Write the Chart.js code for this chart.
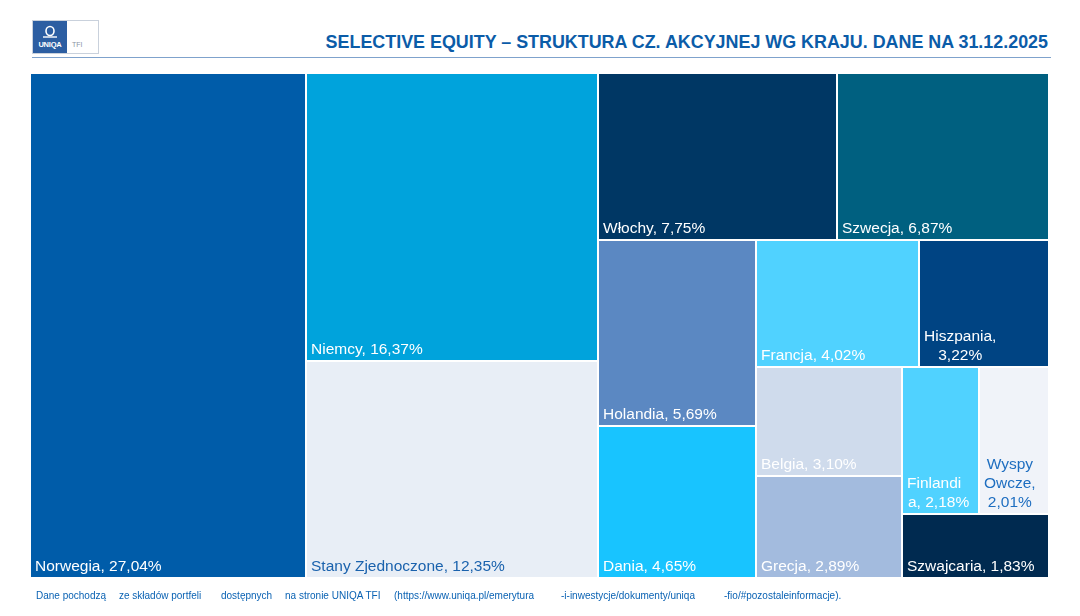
<!DOCTYPE html>
<html lang="pl">
<head>
<meta charset="utf-8">
<script src="https://cdn.jsdelivr.net/npm/chart.js@4.4.1/dist/chart.umd.min.js"></script>
<style>
    html, body { margin: 0; padding: 0; background: #fff; }
    body { width: 1080px; height: 616px; position: relative; overflow: hidden; font-family: "Liberation Sans", Arial, sans-serif; }
    #wrap { position: absolute; left: 0; top: 0; width: 1080px; height: 616px; }
    .logo { position: absolute; left: 32px; top: 20px; width: 67px; height: 34px; border: 1px solid #c9d1dc; box-sizing: border-box; background: #fff; }
    .logo .blue { position: absolute; left: 0; top: 0; width: 34px; height: 32px; background: #2c5ea2; }
    .logo svg { position: absolute; left: 0; top: 3px; }
    .logo .uq { position: absolute; left: 0; width: 34px; top: 19px; text-align: center; color: #fff; font-weight: bold; font-size: 7.5px; letter-spacing: -0.2px; }
    .logo .tfi { position: absolute; left: 39px; top: 20px; color: #8a94a6; font-size: 7px; }
    .title { position: absolute; right: 32px; top: 32px; font-weight: bold; font-size: 17.9px; color: #0b5ca8; white-space: nowrap; }
    .rule { position: absolute; left: 32px; top: 57px; width: 1019px; height: 1px; background: #7fa2cc; }
    .note { position: absolute; top: 590px; font-size: 10px; color: #0a62b3; white-space: nowrap; }
</style>
</head>
<body>
<div class="logo">
    <div class="blue">
        <svg width="34" height="16" viewBox="0 0 34 16">
            <ellipse cx="17" cy="7" rx="4" ry="4.5" fill="none" stroke="#fff" stroke-width="1.6"/>
            <path d="M10 13 L24 13" stroke="#fff" stroke-width="1.4"/>
        </svg>
        <span class="uq">UNIQA</span>
    </div>
    <span class="tfi">TFI</span>
</div>
<div class="title">SELECTIVE EQUITY – STRUKTURA CZ. AKCYJNEJ WG KRAJU. DANE NA 31.12.2025</div>
<div class="rule"></div>
<div id="wrap"><canvas id="treemap"></canvas></div>
<span class="note" style="left:36px">Dane pochodzą</span>
<span class="note" style="left:119px">ze składów portfeli</span>
<span class="note" style="left:221px">dostępnych</span>
<span class="note" style="left:285px">na stronie UNIQA TFI</span>
<span class="note" style="left:394px">(https://www.uniqa.pl/emerytura</span>
<span class="note" style="left:561px">-i-inwestycje/dokumenty/uniqa</span>
<span class="note" style="left:724px">-fio/#pozostaleinformacje).</span>

<script>
const countries = ['Norwegia', 'Niemcy', 'Stany Zjednoczone', 'Włochy', 'Szwecja', 'Holandia', 'Dania',
    'Francja', 'Hiszpania', 'Belgia', 'Grecja', 'Finlandia', 'Wyspy Owcze', 'Szwajcaria'];
const shares = [27.04, 16.37, 12.35, 7.75, 6.87, 5.69, 4.65, 4.02, 3.22, 3.10, 2.89, 2.18, 2.01, 1.83];
const cellColors = ['#005ca9', '#00a3dc', '#e8eef6', '#003764', '#006080', '#5b88c2', '#18c4ff',
    '#50d2ff', '#004483', '#cfdbec', '#a3bbde', '#50d2ff', '#f0f3f9', '#002a50'];
const labelColors = ['#fff', '#fff', '#1a62ad', '#fff', '#fff', '#fff', '#fff',
    '#fff', '#fff', '#fff', '#fff', '#fff', '#1e6ec0', '#fff'];

const FONT = '15.5px "Liberation Sans", Arial, sans-serif';

// squarified layout, a bit lenient so rows match the office-style treemap
function worstRatio(areas, side) {
    const total = areas.reduce((a, b) => a + b, 0);
    const thick = total / side;
    let worst = 0;
    areas.forEach(a => {
        const len = a / thick;
        worst = Math.max(worst, len / thick, thick / len);
    });
    return worst;
}

function squarify(items, x, y, w, h) {
    const out = [];
    let rest = items.slice();
    while (rest.length) {
        if (rest.length === 1) { out.push(Object.assign({}, rest[0], { x, y, w, h })); break; }
        const column = w >= h;
        const side = column ? h : w;
        let row = [rest[0]];
        let best = worstRatio([rest[0].area], side);
        for (let i = 1; i < rest.length; i++) {
            const cand = row.concat(rest[i]);
            const r = worstRatio(cand.map(c => c.area), side);
            if (r > best * 1.15) break;
            row = cand;
            best = r;
        }
        const sum = row.reduce((a, c) => a + c.area, 0);
        const thick = sum / side;
        let off = 0;
        row.forEach(c => {
            const len = c.area / thick;
            if (column) out.push(Object.assign({}, c, { x, y: y + off, w: thick, h: len }));
            else out.push(Object.assign({}, c, { x: x + off, y, w: len, h: thick }));
            off += len;
        });
        if (column) { x += thick; w -= thick; } else { y += thick; h -= thick; }
        rest = rest.slice(row.length);
    }
    return out;
}

// returns lines, and whether a word had to be split by characters
function wrapText(ctx, text, maxW) {
    const words = text.split(' ');
    const lines = [];
    let cur = '';
    let split = false;
    words.forEach(word => {
        let test = cur ? cur + ' ' + word : word;
        if (ctx.measureText(test).width <= maxW) { cur = test; return; }
        if (cur) { lines.push(cur); cur = ''; }
        let piece = word;
        while (ctx.measureText(piece).width > maxW) {
            let k = piece.length - 1;
            while (k > 1 && ctx.measureText(piece.slice(0, k)).width > maxW) k--;
            lines.push(piece.slice(0, k));
            piece = piece.slice(k);
            split = true;
        }
        cur = piece;
    });
    if (cur) lines.push(cur);
    return { lines, split };
}

const treemapCells = {
    id: 'treemapCells',
    afterDatasetsDraw(chart) {
        const ctx = chart.ctx;
        const xs = chart.scales.x, ys = chart.scales.y;
        const left = xs.getPixelForValue(0), right = xs.getPixelForValue(1);
        const top = ys.getPixelForValue(1), bottom = ys.getPixelForValue(0);
        const W = right - left, H = bottom - top;
        const total = shares.reduce((a, b) => a + b, 0);
        const items = shares.map((v, i) => ({ i, v, area: v / total * W * H }));
        const cells = squarify(items, left, top, W, H);

        ctx.save();
        cells.forEach(c => {
            const x0 = Math.round(c.x) + 1, y0 = Math.round(c.y) + 1;
            const x1 = Math.round(c.x + c.w) - 1, y1 = Math.round(c.y + c.h) - 1;
            ctx.fillStyle = cellColors[c.i];
            ctx.fillRect(x0, y0, x1 - x0, y1 - y0);

            ctx.font = FONT;
            ctx.fillStyle = labelColors[c.i];
            ctx.textBaseline = 'alphabetic';
            const label = countries[c.i] + ', ' + c.v.toFixed(2).replace('.', ',') + '%';
            const { lines, split } = wrapText(ctx, label, (x1 - x0) - 13);
            const widths = lines.map(l => ctx.measureText(l).width);
            const blockW = Math.max(...widths);
            const lh = 19;
            lines.forEach((l, k) => {
                const off = (lines.length > 1 && !split) ? (blockW - widths[k]) / 2 : (k > 0 ? 1 : 0);
                const by = y1 - 6 - (lines.length - 1 - k) * lh;
                ctx.fillText(l, x0 + 4 + off, by);
            });
        });
        ctx.restore();
    }
};

new Chart(document.getElementById('treemap'), {
    type: 'scatter',
    data: { datasets: [{ label: 'Udział', data: [] }] },
    options: {
        responsive: true,
        maintainAspectRatio: false,
        animation: false,
        events: [],
        layout: { padding: { left: 30, top: 73, right: 31, bottom: 38 } },
        scales: {
            x: { type: 'linear', min: 0, max: 1, display: false },
            y: { type: 'linear', min: 0, max: 1, display: false }
        },
        plugins: { legend: { display: false }, tooltip: { enabled: false } }
    },
    plugins: [treemapCells]
});
</script>
</body>
</html>
